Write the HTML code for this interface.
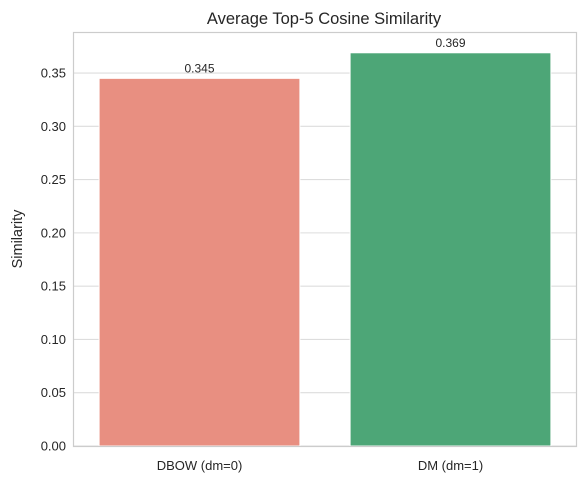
<!DOCTYPE html>
<html><head><meta charset="utf-8"><style>
body{margin:0;background:#fff;font-family:"Liberation Sans",Arial,sans-serif;}
</style></head><body>
<svg id="chart" width="584" height="484" xmlns="http://www.w3.org/2000/svg" font-family="Liberation Sans, Arial, sans-serif">
<rect width="584" height="484" fill="#fff"/>
<g id="grid"></g>
<g id="bars"></g>
<rect x="73.5" y="32.5" width="503" height="414" fill="none" stroke="#cccccc" stroke-width="1.2"/>
<g id="ticks"></g>
<text x="324" y="24" text-anchor="middle" font-size="16.5" fill="#262626">Average Top-5 Cosine Similarity</text>
<text transform="translate(22,239) rotate(-90)" text-anchor="middle" font-size="14.5" fill="#262626">Similarity</text>
</svg>
<script>
const categories = ["DBOW (dm=0)", "DM (dm=1)"];
const values = [0.345, 0.369];
const valueLabels = ["0.345", "0.369"];
const barColors = ["#e88f81", "#4da677"];
const yTicks = [0, 0.05, 0.10, 0.15, 0.20, 0.25, 0.30, 0.35];
const yTickLabels = ["0.00","0.05","0.10","0.15","0.20","0.25","0.30","0.35"];

const NS = "http://www.w3.org/2000/svg";
const plotLeft = 74, plotRight = 576, plotTop = 32, plotBottom = 446;
const yMax = 0.3885;
const yScale = v => plotBottom - v / yMax * (plotBottom - plotTop);
const band = (plotRight - plotLeft) / categories.length;
const xc = i => plotLeft + band * (i + 0.5);
function mk(tag, attrs, parent) {
  const e = document.createElementNS(NS, tag);
  for (const k in attrs) e.setAttribute(k, attrs[k]);
  parent.appendChild(e);
  return e;
}
const gridG = document.getElementById('grid'), barsG = document.getElementById('bars'), ticksG = document.getElementById('ticks');
yTicks.forEach((t, i) => {
  const gl = mk('line', {x1:plotLeft, x2:plotRight, y1:yScale(t), y2:yScale(t), stroke:'#dddddd', 'stroke-width':1.1}, gridG);
  
  
  const tl = mk('text', {x:66, y:yScale(t)+4.5, 'text-anchor':'end', 'font-size':13, fill:'#262626'}, ticksG);
  tl.textContent = yTickLabels[i];
  
  
});
categories.forEach((c, i) => {
  const w = band * 0.8;
  const b = mk('rect', {x:xc(i)-w/2, y:yScale(values[i]), width:w, height:plotBottom-yScale(values[i]), fill:barColors[i], stroke:'#ffffff', 'stroke-width':1}, barsG);
  
  
  const vl = mk('text', {x:xc(i), y:yScale(values[i])-6, 'text-anchor':'middle', 'font-size':12, fill:'#262626'}, barsG);
  vl.textContent = valueLabels[i];
  
  
  const xl = mk('text', {x:xc(i), y:470, 'text-anchor':'middle', 'font-size':13, fill:'#262626'}, ticksG);
  xl.textContent = c;
  
  
});
</script>
</body></html>
